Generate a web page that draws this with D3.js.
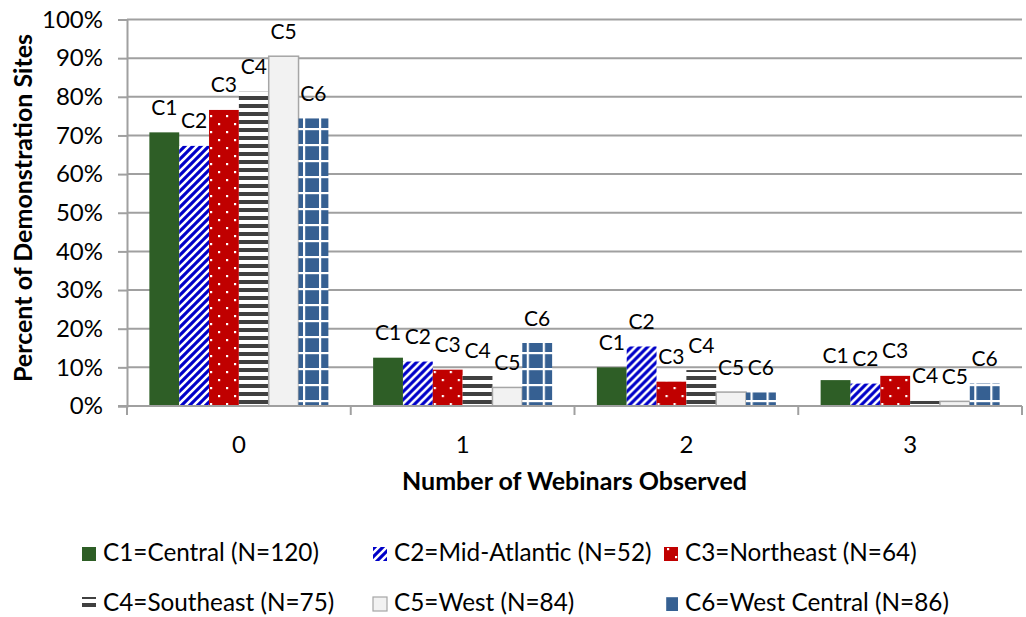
<!DOCTYPE html>
<html>
<head>
<meta charset="utf-8">
<script src="https://cdn.jsdelivr.net/npm/d3@7"></script>
<style>
  html, body { margin: 0; padding: 0; background: #fff; }
  svg { display: block; font-family: Lato, "Open Sans", sans-serif; }
</style>
</head>
<body>
<svg id="chart" width="1026" height="617"></svg>
<script>
// Share of demonstration sites by number of webinars observed, per region
const categories = ["0", "1", "2", "3"];
const seriesKeys = ["C1", "C2", "C3", "C4", "C5", "C6"];
const legendLabels = [
  "C1=Central (N=120)",
  "C2=Mid-Atlantic (N=52)",
  "C3=Northeast (N=64)",
  "C4=Southeast (N=75)",
  "C5=West (N=84)",
  "C6=West Central (N=86)"
];
const c1Central      = [70.8, 12.5, 10.0, 6.7];
const c2MidAtlantic  = [67.3, 11.5, 15.4, 5.8];
const c3Northeast    = [76.6, 9.4, 6.3, 7.8];
const c4Southeast    = [81.3, 8.0, 9.3, 1.3];
const c5West         = [90.5, 4.8, 3.6, 1.2];
const c6WestCentral  = [74.4, 16.3, 3.5, 5.8];
const yTicks = [0, 10, 20, 30, 40, 50, 60, 70, 80, 90, 100];

const seriesValues = [c1Central, c2MidAtlantic, c3Northeast, c4Southeast, c5West, c6WestCentral];

const svg = d3.select("#chart");
const defs = svg.append("defs");

// Fill patterns for each region
function makePattern(id, size, build) {
  const p = defs.append("pattern")
    .attr("id", id)
    .attr("patternUnits", "userSpaceOnUse")
    .attr("width", size).attr("height", size);
  build(p, size);
}
makePattern("pat-c2", 8, (p, s) => {
  p.append("rect").attr("width", s).attr("height", s).attr("fill", "#0000C8");
  p.append("path")
    .attr("d", `M0,${s} L${s},0 M-2,2 L2,-2 M${s - 2},${s + 2} L${s + 2},${s - 2}`)
    .attr("stroke", "#fff").attr("stroke-width", 2.6);
});
makePattern("pat-c3", 16, (p, s) => {
  p.append("rect").attr("width", s).attr("height", s).attr("fill", "#C00000");
  p.append("rect").attr("x", 3).attr("y", 3).attr("width", 2.2).attr("height", 2.2).attr("fill", "#fff");
  p.append("rect").attr("x", 11).attr("y", 11).attr("width", 2.2).attr("height", 2.2).attr("fill", "#fff");
});
makePattern("pat-c4", 8, (p, s) => {
  p.append("rect").attr("width", s).attr("height", s).attr("fill", "#fff");
  p.append("rect").attr("y", 0).attr("width", s).attr("height", 4).attr("fill", "#404040");
});
makePattern("pat-c6", 16, (p, s) => {
  p.append("rect").attr("width", s).attr("height", s).attr("fill", "#366092");
  p.append("rect").attr("x", 0).attr("width", 2.2).attr("height", s).attr("fill", "#fff");
  p.append("rect").attr("y", 0).attr("width", s).attr("height", 2.2).attr("fill", "#fff");
});

const fills = {
  C1: "#2E5E26",
  C2: "url(#pat-c2)",
  C3: "url(#pat-c3)",
  C4: "url(#pat-c4)",
  C5: "#F2F2F2",
  C6: "url(#pat-c6)"
};
const strokes = { C5: "#A6A6A6" };

// Plot area
const plot = { left: 127, right: 1022, top: 19.5, bottom: 406 };
const gridColor = "#A0A0A0";

const x0 = d3.scaleBand().domain(categories).range([plot.left, plot.right]).padding(0);
const bw = x0.bandwidth();
const x1 = d3.scaleBand().domain(seriesKeys).range([bw * 0.1, bw * 0.9]).padding(0);
const y = d3.scaleLinear().domain([0, 100]).range([plot.bottom, plot.top]);

// Horizontal gridlines
svg.append("g")
  .selectAll("line")
  .data(yTicks.filter(t => t > 0))
  .join("line")
  .attr("x1", plot.left).attr("x2", plot.right)
  .attr("y1", d => y(d)).attr("y2", d => y(d))
  .attr("stroke", gridColor).attr("stroke-width", 2);

// Y axis
const yAxis = svg.append("g")
  .attr("transform", `translate(${plot.left},0)`)
  .call(d3.axisLeft(y).tickValues(yTicks).tickFormat(d => d + "%").tickSize(9).tickPadding(15));
yAxis.select(".domain").attr("stroke", gridColor).attr("stroke-width", 2);
yAxis.selectAll(".tick line").attr("stroke", gridColor).attr("stroke-width", 2);
yAxis.selectAll(".tick text")
  .attr("font-family", "Lato, sans-serif")
  .attr("font-size", 24)
  .attr("fill", "#000");

// Bars
const groups = svg.append("g")
  .selectAll("g")
  .data(categories)
  .join("g")
  .attr("transform", d => `translate(${x0(d)},0)`);

groups.selectAll("rect")
  .data((cat, ci) => seriesKeys.map((k, si) => ({ key: k, value: seriesValues[si][ci] })))
  .join("rect")
  .attr("x", d => x1(d.key))
  .attr("y", d => y(d.value))
  .attr("width", x1.bandwidth())
  .attr("height", d => y(0) - y(d.value))
  .attr("fill", d => fills[d.key])
  .attr("stroke", d => strokes[d.key] || "none")
  .attr("stroke-width", 1.5);

// Region labels above each bar
groups.selectAll("text")
  .data((cat, ci) => seriesKeys.map((k, si) => ({ key: k, value: seriesValues[si][ci] })))
  .join("text")
  .attr("x", d => x1(d.key) + x1.bandwidth() / 2)
  .attr("y", d => y(d.value) - 17.5)
  .attr("text-anchor", "middle")
  .attr("font-size", 21)
  .attr("fill", "#000")
  .text(d => d.key);

// X axis line and category ticks
svg.append("line")
  .attr("x1", plot.left - 9).attr("x2", plot.right)
  .attr("y1", plot.bottom).attr("y2", plot.bottom)
  .attr("stroke", gridColor).attr("stroke-width", 2);
svg.append("g")
  .selectAll("line")
  .data(categories.map(c => x0(c)).concat([plot.right]))
  .join("line")
  .attr("x1", d => d).attr("x2", d => d)
  .attr("y1", plot.bottom).attr("y2", plot.bottom + 9)
  .attr("stroke", gridColor).attr("stroke-width", 2);
svg.append("g")
  .selectAll("text")
  .data(categories)
  .join("text")
  .attr("x", d => x0(d) + bw / 2)
  .attr("y", 453)
  .attr("text-anchor", "middle")
  .attr("font-size", 24)
  .text(d => d);

// Axis titles
svg.append("text")
  .attr("x", (plot.left + plot.right) / 2)
  .attr("y", 490)
  .attr("text-anchor", "middle")
  .attr("font-size", 25)
  .attr("font-weight", "bold")
  .text("Number of Webinars Observed");
svg.append("text")
  .attr("transform", `translate(32,208) rotate(-90)`)
  .attr("text-anchor", "middle")
  .attr("font-size", 25)
  .attr("font-weight", "bold")
  .text("Percent of Demonstration Sites");

// Legend: three columns, two rows
const legendCols = [82, 373, 664];
const legendRows = [561, 611];
const legend = svg.append("g")
  .selectAll("g")
  .data(seriesKeys)
  .join("g")
  .attr("transform", (d, i) => `translate(${legendCols[i % 3]},${legendRows[Math.floor(i / 3)]})`);
legend.append("rect")
  .attr("x", 0).attr("y", -14)
  .attr("width", 14).attr("height", 14)
  .attr("fill", d => fills[d])
  .attr("stroke", d => strokes[d] || "none")
  .attr("stroke-width", 1.2);
legend.append("text")
  .attr("x", 21).attr("y", 0)
  .attr("font-size", 24.3)
  .text((d, i) => legendLabels[i]);
</script>
</body>
</html>
